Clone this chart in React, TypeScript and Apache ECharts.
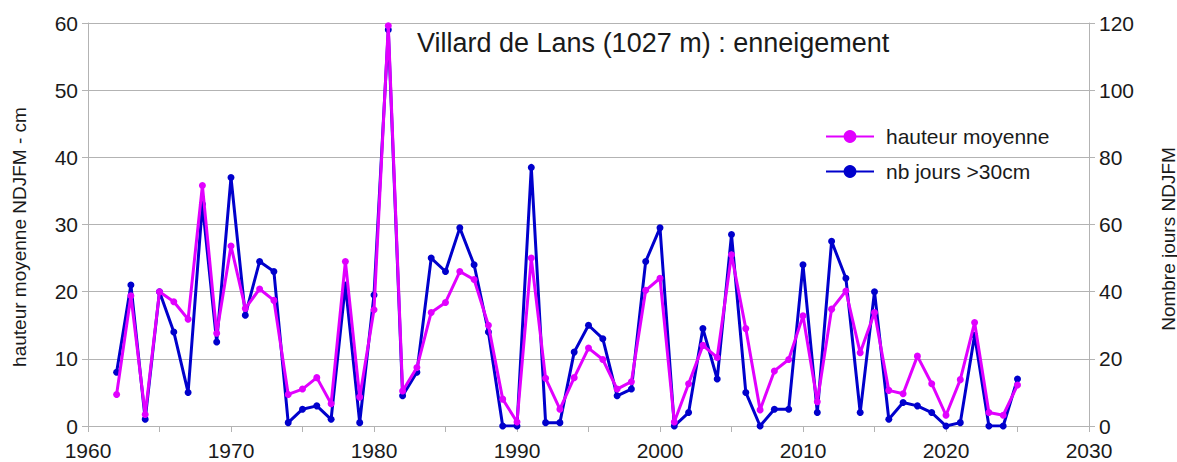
import React, { useEffect, useRef } from "react";
import * as echarts from "echarts";

const years: number[] = [];
for (let y = 1962; y <= 2025; y++) years.push(y);

const hauteurMoyenne = [
  4.7, 19.4, 1.7, 20.0, 18.5, 15.9, 35.8, 13.8, 26.8, 17.5,
  20.4, 18.7, 4.7, 5.5, 7.2, 3.3, 24.5, 4.3, 17.3, 59.6,
  5.2, 8.7, 16.9, 18.4, 23.0, 21.8, 15.0, 4.0, 0.6, 25.0,
  7.1, 2.5, 7.2, 11.6, 9.9, 5.5, 6.6, 20.2, 22.0, 0.6,
  6.3, 12.0, 10.2, 25.5, 14.5, 2.4, 8.2, 9.9, 16.4, 3.6,
  17.4, 20.1, 10.9, 16.9, 5.3, 4.8, 10.4, 6.3, 1.6, 6.9,
  15.4, 2.0, 1.6, 6.1,
];

const nbJours = [
  16, 42, 2, 40, 28, 10, 66, 25, 74, 33,
  49, 46, 1, 5, 6, 2, 42, 1, 39, 118,
  9, 16, 50, 46, 59, 48, 28, 0, 0, 77,
  1, 1, 22, 30, 26, 9, 11, 49, 59, 0,
  4, 29, 14, 57, 10, 0, 5, 5, 48, 4,
  55, 44, 4, 40, 2, 7, 6, 4, 0, 1,
  27, 0, 0, 14,
];

const titleText = "Villard de Lans (1027 m) : enneigement";
const leftName = "hauteur moyenne NDJFM - cm";
const rightName = "Nombre jours NDJFM";
const seriesNames = ["hauteur moyenne", "nb jours >30cm"];

const MAGENTA = "#e100ff";
const BLUE = "#0000cc";
const GRID = "#b3b3b3";
const TXT = "#1a1a1a";
const FONT = "'Liberation Sans', Arial, sans-serif";

export default function App() {
  const ref = useRef<HTMLDivElement>(null);
  useEffect(() => {
    if (!ref.current) return;
    const chart = echarts.init(ref.current, undefined, { renderer: "svg" });
    const hData = years.map((y, i) => [y, hauteurMoyenne[i]]);
    const jData = years.map((y, i) => [y, nbJours[i]]);
    chart.setOption({
      animation: false,
      backgroundColor: "#ffffff",
      textStyle: { fontFamily: FONT, color: TXT },
      grid: { left: 88, right: 88, top: 23, bottom: 36, containLabel: false },
      title: {
        text: titleText,
        left: 417,
        top: 29,
        padding: 0,
        textStyle: { fontSize: 27, fontWeight: "normal", color: TXT, fontFamily: FONT },
      },
      legend: {
        data: seriesNames,
        orient: "vertical",
        left: 825,
        top: 126,
        itemWidth: 48,
        itemHeight: 16,
        itemGap: 14,
        padding: 0,
        textStyle: { fontSize: 21, color: TXT, fontFamily: FONT, padding: [0, 0, 0, 7] },
      },
      xAxis: {
        type: "value",
        min: 1960,
        max: 2030,
        interval: 5,
        axisLine: { show: true, onZero: false, lineStyle: { color: GRID, width: 1 } },
        axisTick: { show: true, length: 6, lineStyle: { color: GRID } },
        splitLine: { show: false },
        axisLabel: {
          fontSize: 21,
          color: TXT,
          fontFamily: FONT,
          margin: 14,
          formatter: (v: number) => (v % 10 === 0 ? String(v) : ""),
        },
      },
      yAxis: [
        {
          type: "value",
          min: 0,
          max: 60,
          interval: 10,
          position: "left",
          axisLine: { show: true, lineStyle: { color: GRID, width: 1 } },
          axisTick: { show: true, length: 6, lineStyle: { color: GRID } },
          splitLine: { show: true, lineStyle: { color: GRID, width: 1 } },
          axisLabel: { fontSize: 21, color: TXT, fontFamily: FONT, margin: 10 },
        },
        {
          type: "value",
          min: 0,
          max: 120,
          interval: 20,
          position: "right",
          axisLine: { show: true, lineStyle: { color: GRID, width: 1 } },
          axisTick: { show: true, length: 6, lineStyle: { color: GRID } },
          splitLine: { show: false },
          axisLabel: { fontSize: 21, color: TXT, fontFamily: FONT, margin: 10 },
        },
      ],
      graphic: [
        {
          type: "text",
          x: 19,
          y: 237,
          rotation: Math.PI / 2,
          style: {
            text: leftName,
            align: "center",
            verticalAlign: "middle",
            fontSize: 19,
            fontFamily: FONT,
            fill: TXT,
          },
        },
        {
          type: "text",
          x: 1168,
          y: 239,
          rotation: Math.PI / 2,
          style: {
            text: rightName,
            align: "center",
            verticalAlign: "middle",
            fontSize: 19,
            fontFamily: FONT,
            fill: TXT,
          },
        },
      ],
      series: [
        {
          name: seriesNames[1],
          type: "line",
          yAxisIndex: 1,
          data: jData,
          symbol: "circle",
          symbolSize: 7,
          lineStyle: { color: BLUE, width: 3 },
          itemStyle: { color: BLUE },
          z: 2,
        },
        {
          name: seriesNames[0],
          type: "line",
          yAxisIndex: 0,
          data: hData,
          symbol: "circle",
          symbolSize: 7,
          lineStyle: { color: MAGENTA, width: 3 },
          itemStyle: { color: MAGENTA },
          z: 3,
        },
      ],
    });
    return () => chart.dispose();
  }, []);
  return (
    <div
      ref={ref}
      style={{ position: "fixed", left: 0, top: 0, width: 1177, height: 462 }}
    />
  );
}
